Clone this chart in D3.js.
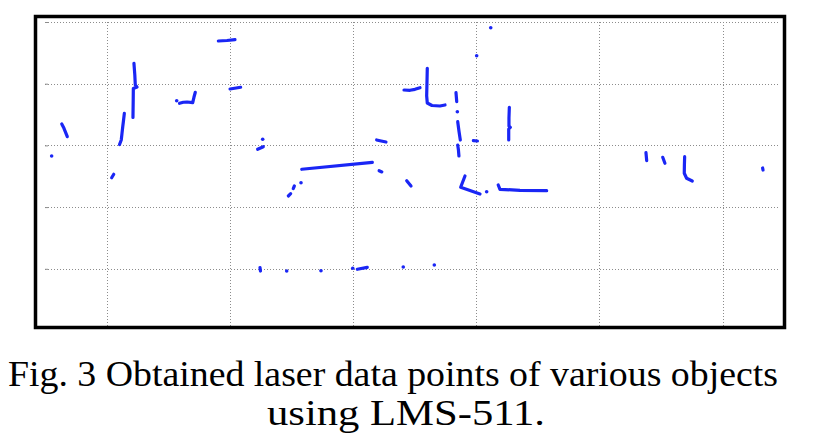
<!DOCTYPE html>
<html>
<head>
<meta charset="utf-8">
<script src="https://cdn.jsdelivr.net/npm/d3@7/dist/d3.min.js"></script>
<style>
  html, body { margin: 0; padding: 0; background: #fff; }
  svg { display: block; }
  .cap { font-family: "Liberation Serif", "Nimbus Roman", "Tinos", "DejaVu Serif Condensed", "Times New Roman", serif; }
</style>
</head>
<body>
<svg id="chart" width="814" height="446"></svg>
<script>
// ---- data (metres) ----
const xTicks = [10, 20, 30, 40, 50, 60];
const yTicks = [10, 20, 30, 40, 50];
const captionLines = ["Fig. 3 Obtained laser data points of various objects", "using LMS-511."];

// scan segments: each is a list of [x, y] laser returns
const segments = [
  [[6.36, 33.47], [6.54, 32.77], [6.81, 31.41]],
  [[12.22, 43.31], [12.29, 41.41], [12.33, 39.79], [12.47, 39.47], [12.17, 39.22], [12.16, 37.36], [12.14, 34.52]],
  [[11.44, 35.20], [11.36, 33.84], [11.31, 33.03], [11.25, 31.96], [11.19, 30.87], [11.05, 30.15]],
  [[15.92, 36.82], [16.23, 36.99], [16.53, 37.03], [16.99, 36.92], [17.09, 37.80], [17.20, 38.61]],
  [[19.07, 46.92], [19.77, 47.00], [20.42, 47.13]],
  [[20.02, 39.14], [20.88, 39.42]],
  [[22.26, 29.37], [22.72, 29.79]],
  [[10.41, 24.76], [10.58, 25.32]],
  [[22.45, 10.21], [22.49, 9.64]],
  [[25.84, 26.13], [31.57, 27.26]],
  [[31.92, 30.88], [32.19, 30.76], [32.68, 30.55]],
  [[32.12, 25.90], [32.34, 25.70]],
  [[34.36, 24.28], [34.71, 23.42]],
  [[24.75, 21.80], [24.94, 22.17]],
  [[25.15, 23.01], [25.24, 23.42]],
  [[38.36, 38.54], [38.42, 37.08]],
  [[38.50, 33.84], [38.60, 32.33], [38.71, 30.87]],
  [[38.50, 30.06], [38.56, 29.25], [38.60, 28.28]],
  [[39.09, 25.04], [38.74, 23.21], [40.31, 22.12]],
  [[41.79, 23.58], [41.93, 22.88], [43.56, 22.72], [45.72, 22.66]],
  [[30.35, 9.92], [31.16, 10.24]],
  [[36.03, 42.50], [36.01, 40.60], [35.98, 38.01], [36.03, 36.87], [36.41, 36.47], [37.06, 36.39], [37.47, 36.55]],
  [[34.14, 38.98], [34.63, 38.93], [35.03, 39.09], [35.44, 39.35]],
  [[39.77, 30.76], [40.10, 30.71]],
  [[42.69, 36.18], [42.66, 34.44], [42.66, 33.14], [42.77, 32.93], [42.64, 32.66], [42.64, 30.88]],
  [[53.78, 28.82], [53.84, 27.52]],
  [[55.14, 28.07], [55.32, 27.10]],
  [[56.92, 28.17], [56.90, 26.82], [56.89, 25.48], [57.08, 24.67], [57.54, 24.23]],
  [[63.25, 26.34], [63.28, 26.01]]
];

// isolated single returns
const singlePoints = [
  [5.54, 28.28], [15.69, 37.24], [22.67, 30.99], [24.62, 9.64], [25.78, 23.95],
  [38.47, 35.46], [40.85, 22.50], [27.40, 9.69], [29.98, 10.08], [34.08, 10.29],
  [36.60, 10.62], [41.18, 49.08], [40.04, 44.54]
];

// ---- drawing ----
const svg = d3.select("#chart");
const x = d3.scaleLinear().domain([5, 64.66]).range([45, 780]);
const y = d3.scaleLinear().domain([0, 50]).range([330.5, 22]);

const blue = "#1a26f5";
const gridColor = "#8c8c8c";

const g = svg.append("g");

// horizontal grid (dotted)
g.append("g").selectAll("line").data(yTicks).join("line")
  .attr("x1", x(5)).attr("x2", x(64.66))
  .attr("y1", d => Math.round(y(d)) + 0.5).attr("y2", d => Math.round(y(d)) + 0.5)
  .attr("stroke", gridColor).attr("stroke-width", 1).attr("stroke-dasharray", "1,2");

// vertical grid (dotted)
g.append("g").selectAll("line").data(xTicks).join("line")
  .attr("x1", d => Math.round(x(d)) + 0.5).attr("x2", d => Math.round(x(d)) + 0.5)
  .attr("y1", y(50)).attr("y2", y(0))
  .attr("stroke", gridColor).attr("stroke-width", 1).attr("stroke-dasharray", "1,2");

// small y tick marks at left
const yAxis = d3.axisLeft(y).tickValues(yTicks).tickSize(-3).tickFormat("");
const ya = g.append("g").attr("transform", `translate(${x(5)},0)`).call(yAxis);
ya.select(".domain").remove();
ya.selectAll(".tick line").attr("stroke", gridColor).attr("stroke-width", 1);

// scan segments
const line = d3.line().x(d => x(d[0])).y(d => y(d[1])).curve(d3.curveLinear);
g.append("g").selectAll("path").data(segments).join("path")
  .attr("d", line)
  .attr("fill", "none")
  .attr("stroke", blue)
  .attr("stroke-width", 3.2)
  .attr("stroke-linecap", "round")
  .attr("stroke-linejoin", "round");

// single points
g.append("g").selectAll("circle").data(singlePoints).join("circle")
  .attr("cx", d => x(d[0])).attr("cy", d => y(d[1]))
  .attr("r", 1.8).attr("fill", blue);

// frame
svg.append("rect")
  .attr("x", 35.5).attr("y", 16.5).attr("width", 749).attr("height", 311)
  .attr("fill", "none").attr("stroke", "#000").attr("stroke-width", 3.5);

// caption
const cap = svg.append("g").attr("class", "cap")
  .attr("font-size", 36).attr("fill", "#000");
cap.append("text").attr("x", 393).attr("y", 386).attr("text-anchor", "middle")
  .attr("textLength", 770).attr("lengthAdjust", "spacingAndGlyphs")
  .text(captionLines[0]);
cap.append("text").attr("x", 406).attr("y", 425).attr("text-anchor", "middle")
  .attr("textLength", 278).attr("lengthAdjust", "spacingAndGlyphs")
  .text(captionLines[1]);
</script>
</body>
</html>
